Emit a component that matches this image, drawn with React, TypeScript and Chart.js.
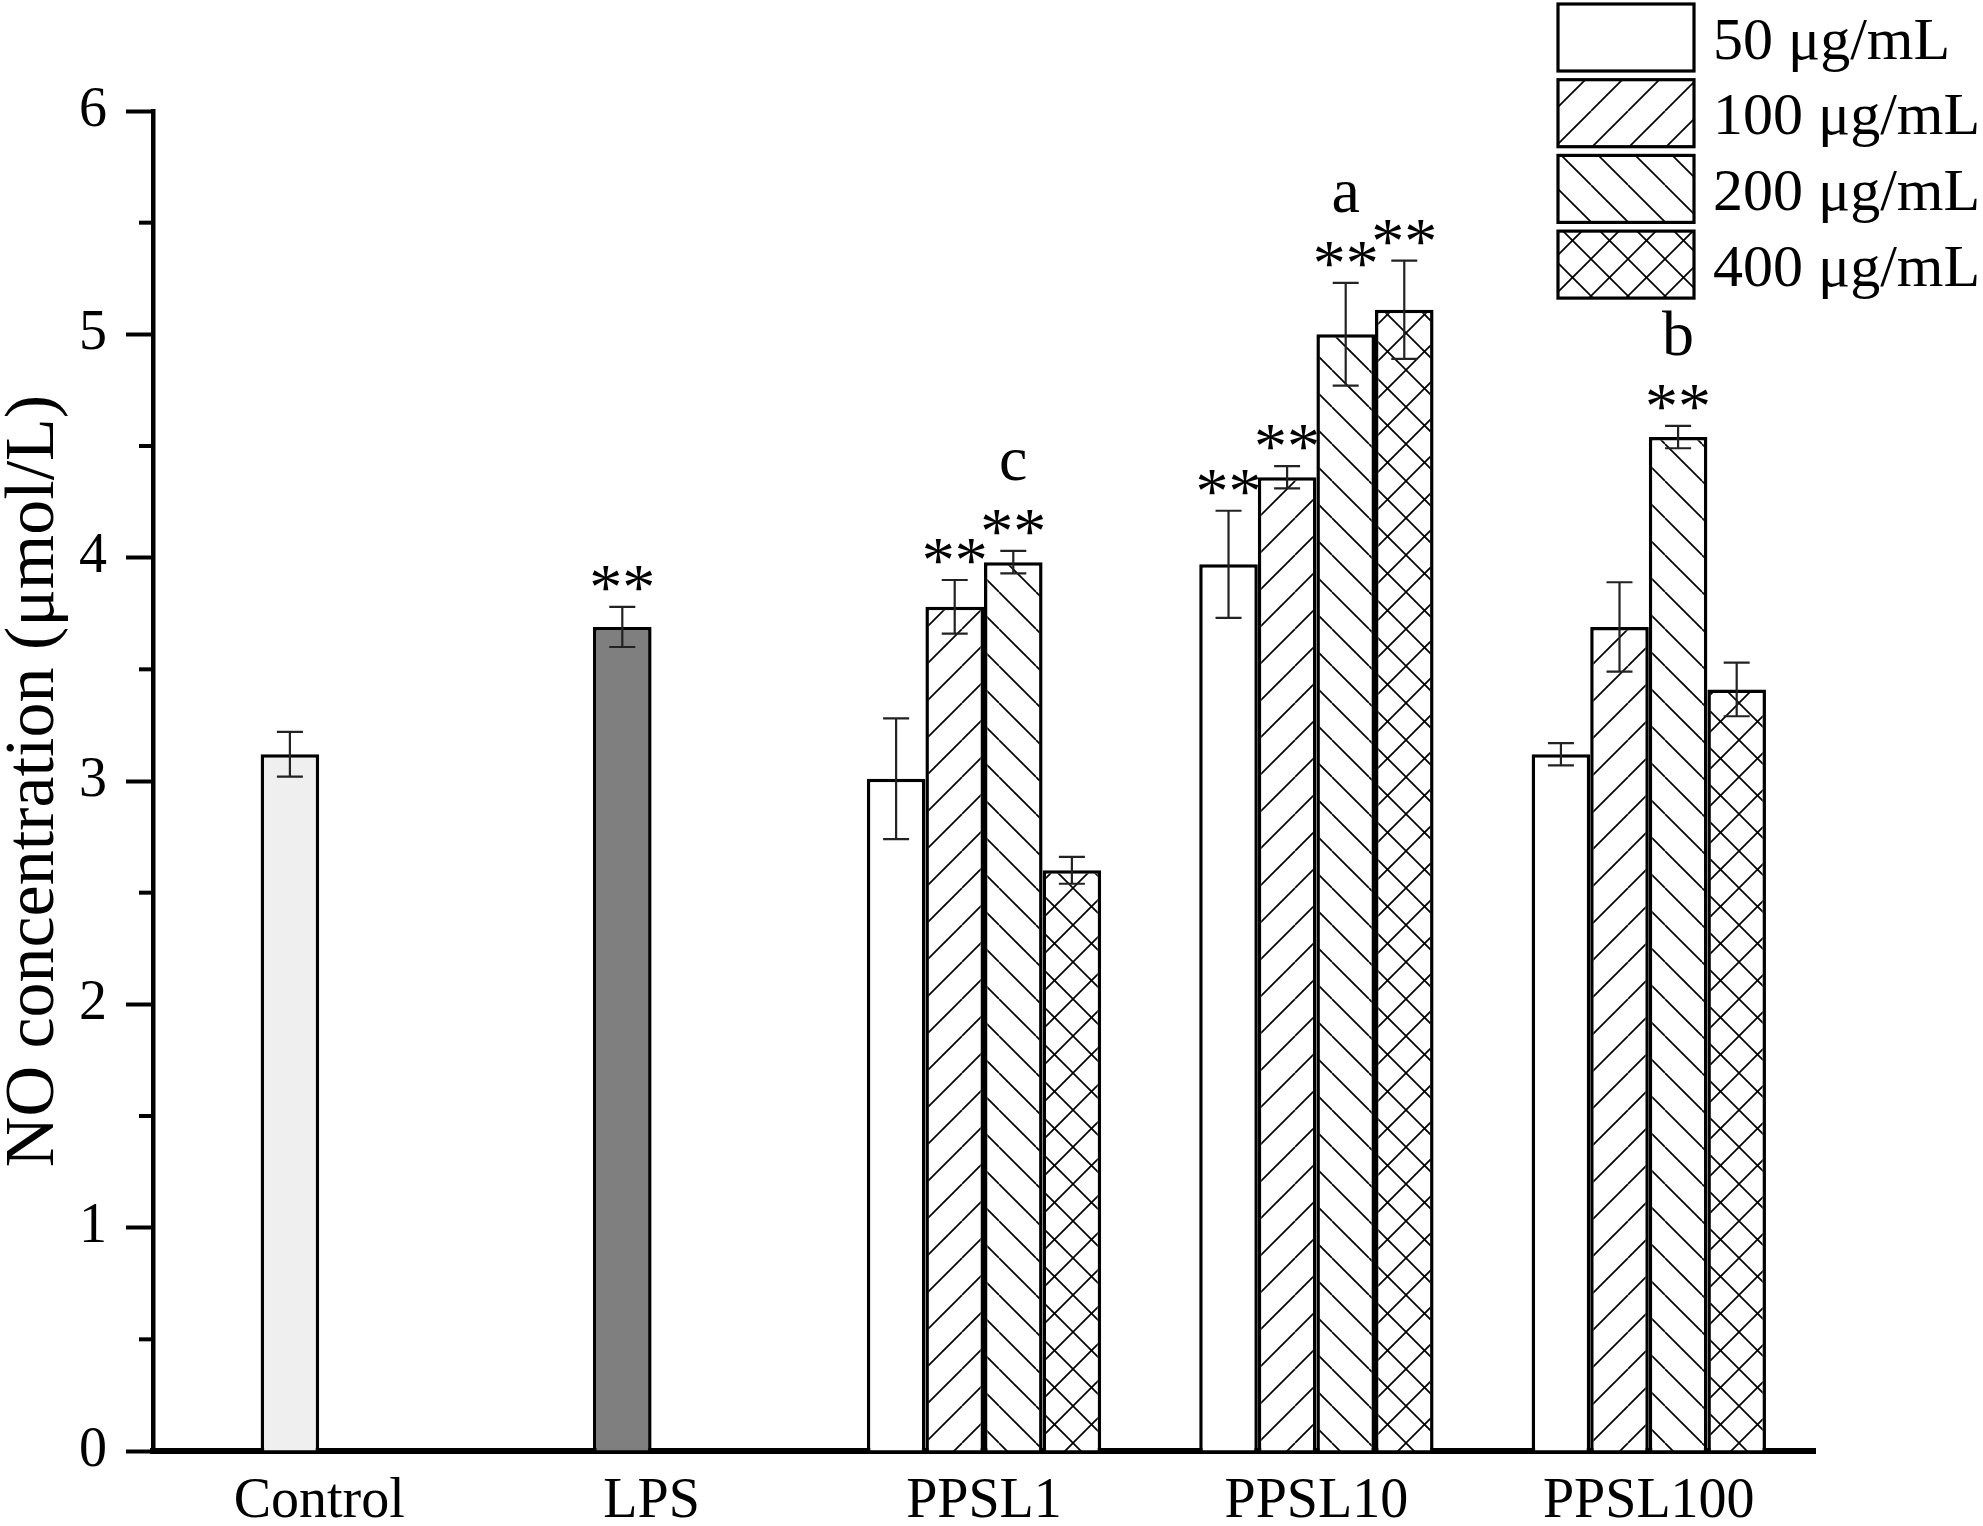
import React, { useRef, useEffect } from 'react';
import { Chart, registerables } from 'chart.js';

Chart.register(...registerables);

const FONT = '"Liberation Serif", "Times New Roman", Times, serif';

const categories = ['Control', 'LPS', 'PPSL1', 'PPSL10', 'PPSL100'];
const seriesLabels = ['50 μg/mL', '100 μg/mL', '200 μg/mL', '400 μg/mL'];

// Control and LPS sit in the 100 µg/mL slot of their group
const conc50 = [null, null, 3.01, 3.97, 3.12];
const conc100 = [3.12, 3.69, 3.78, 4.36, 3.69];
const conc200 = [null, null, 3.98, 5.0, 4.54];
const conc400 = [null, null, 2.6, 5.11, 3.41];

const err50 = [null, null, 0.27, 0.24, 0.05];
const err100 = [0.1, 0.09, 0.12, 0.05, 0.2];
const err200 = [null, null, 0.05, 0.23, 0.05];
const err400 = [null, null, 0.06, 0.22, 0.12];

const stars50 = [false, false, false, true, false];
const stars100 = [false, true, true, true, false];
const stars200 = [false, false, true, true, true];
const stars400 = [false, false, false, true, false];

// letters over the 200 µg/mL bars
const letters200 = ['', '', 'c', 'a', 'b'];

const yTicks = [0, 1, 2, 3, 4, 5, 6];

type Hatch = 'none' | 'fwd' | 'back' | 'cross';

function makeHatch(kind: Hatch): CanvasPattern | string {
  if (kind === 'none') return '#ffffff';
  const s = 37;
  const c = document.createElement('canvas');
  c.width = s;
  c.height = s;
  const g = c.getContext('2d')!;
  g.fillStyle = '#ffffff';
  g.fillRect(0, 0, s, s);
  g.strokeStyle = '#000';
  g.lineWidth = 1.7;
  const fwd = () => {
    for (let k = -1; k <= 1; k++) {
      g.beginPath();
      g.moveTo(k * s, s);
      g.lineTo(k * s + s, 0);
      g.stroke();
    }
  };
  const back = () => {
    for (let k = -1; k <= 1; k++) {
      g.beginPath();
      g.moveTo(k * s, 0);
      g.lineTo(k * s + s, s);
      g.stroke();
    }
  };
  if (kind === 'fwd' || kind === 'cross') fwd();
  if (kind === 'back' || kind === 'cross') back();
  return g.createPattern(c, 'repeat') as CanvasPattern;
}

const App: React.FC = () => {
  const canvasRef = useRef<HTMLCanvasElement>(null);
  const chartRef = useRef<Chart | null>(null);

  useEffect(() => {
    if (!canvasRef.current) return;
    const ctx = canvasRef.current.getContext('2d');
    if (!ctx) return;
    if (chartRef.current) chartRef.current.destroy();

    const fills = [makeHatch('none'), makeHatch('fwd'), makeHatch('back'), makeHatch('cross')];
    const values = [conc50, conc100, conc200, conc400];
    const errors = [err50, err100, err200, err400];
    const stars = [stars50, stars100, stars200, stars400];

    const bg100 = categories.map((_, i) => (i === 0 ? '#efefef' : i === 1 ? '#7f7f7f' : fills[1]));

    const overlay = {
      id: 'overlay',
      afterDraw(chart: any) {
        const c = chart.ctx as CanvasRenderingContext2D;
        const y = chart.scales.y;
        const area = chart.chartArea;
        c.save();

        // minor ticks
        c.strokeStyle = '#000';
        c.lineWidth = 4;
        y.ticks.forEach((t: any) => {
          if (Number.isInteger(t.value)) return;
          const py = y.getPixelForValue(t.value);
          c.beginPath();
          c.moveTo(area.left - 14, py);
          c.lineTo(area.left, py);
          c.stroke();
        });

        // error bars, stars, letters
        values.forEach((vals, di) => {
          const meta = chart.getDatasetMeta(di);
          meta.data.forEach((bar: any, i: number) => {
            const v = vals[i];
            const e = errors[di][i];
            if (v == null || e == null) return;
            const top = y.getPixelForValue(v + e);
            const bot = y.getPixelForValue(v - e);
            c.strokeStyle = '#222';
            c.lineWidth = 2.2;
            c.beginPath();
            c.moveTo(bar.x, top);
            c.lineTo(bar.x, bot);
            c.moveTo(bar.x - 13, top);
            c.lineTo(bar.x + 13, top);
            c.moveTo(bar.x - 13, bot);
            c.lineTo(bar.x + 13, bot);
            c.stroke();

            const starCenter = top - 29;
            if (stars[di][i]) {
              c.fillStyle = '#000';
              c.font = `66px ${FONT}`;
              c.textAlign = 'center';
              c.textBaseline = 'alphabetic';
              c.fillText('**', bar.x, starCenter + 31);
            }
            if (di === 2 && letters200[i]) {
              c.fillStyle = '#000';
              c.font = `64px ${FONT}`;
              c.textAlign = 'center';
              c.textBaseline = 'alphabetic';
              c.fillText(letters200[i], bar.x, starCenter - 42);
            }
          });
        });

        // legend
        const bx = 1558;
        const bw = 136;
        const bh = 67;
        seriesLabels.forEach((lab, i) => {
          const by = 4 + i * 75.7;
          c.fillStyle = fills[i] as any;
          c.fillRect(bx, by, bw, bh);
          c.strokeStyle = '#000';
          c.lineWidth = 3.2;
          c.strokeRect(bx, by, bw, bh);
          c.fillStyle = '#000';
          c.font = `60px ${FONT}`;
          c.textAlign = 'left';
          c.textBaseline = 'alphabetic';
          c.fillText(lab, 1713, by + bh / 2 + 21);
        });
        c.restore();
      },
    };

    chartRef.current = new Chart(ctx, {
      type: 'bar',
      data: {
        labels: categories,
        datasets: seriesLabels.map((lab, di) => ({
          label: lab,
          data: values[di] as any,
          backgroundColor: di === 1 ? (bg100 as any) : (fills[di] as any),
          borderColor: '#000',
          borderWidth: 3.5,
          categoryPercentage: 0.705,
          barPercentage: 1.0,
        })),
      },
      options: {
        animation: false,
        responsive: true,
        maintainAspectRatio: false,
        layout: { padding: { top: 111, right: 168, left: 0, bottom: 0 } },
        plugins: {
          legend: { display: false },
          tooltip: { enabled: false },
        },
        scales: {
          x: {
            type: 'category',
            offset: true,
            grid: { display: false, drawTicks: false },
            border: { display: true, color: '#000', width: 6 },
            ticks: { color: '#000', font: { family: FONT, size: 56 }, padding: 18 },
            afterFit: (s: any) => {
              s.height = 75;
            },
          },
          y: {
            min: 0,
            max: yTicks[yTicks.length - 1],
            ticks: {
              stepSize: 0.5,
              autoSkip: false,
              color: '#000',
              font: { family: FONT, size: 56 },
              padding: 19,
              callback: (v: any) => (yTicks.includes(Number(v)) ? String(v) : ''),
            },
            grid: {
              drawOnChartArea: false,
              drawTicks: true,
              tickLength: 27,
              tickWidth: 4,
              tickColor: (c: any) => (Number.isInteger(c.tick.value) ? '#000' : 'rgba(0,0,0,0)'),
            },
            border: { color: '#000', width: 4.5 },
            title: {
              display: true,
              text: 'NO concentration (μmol/L)',
              color: '#000',
              font: { family: FONT, size: 70, lineHeight: 1 },
              padding: 0,
            },
            afterFit: (s: any) => {
              s.width = 153;
            },
          },
        },
      },
      plugins: [overlay],
    });

    return () => {
      if (chartRef.current) {
        chartRef.current.destroy();
        chartRef.current = null;
      }
    };
  }, []);

  return (
    <div style={{ position: 'fixed', left: 0, top: 0, width: 1983, height: 1526, background: '#fff' }}>
      <canvas ref={canvasRef} />
    </div>
  );
};

export default App;
